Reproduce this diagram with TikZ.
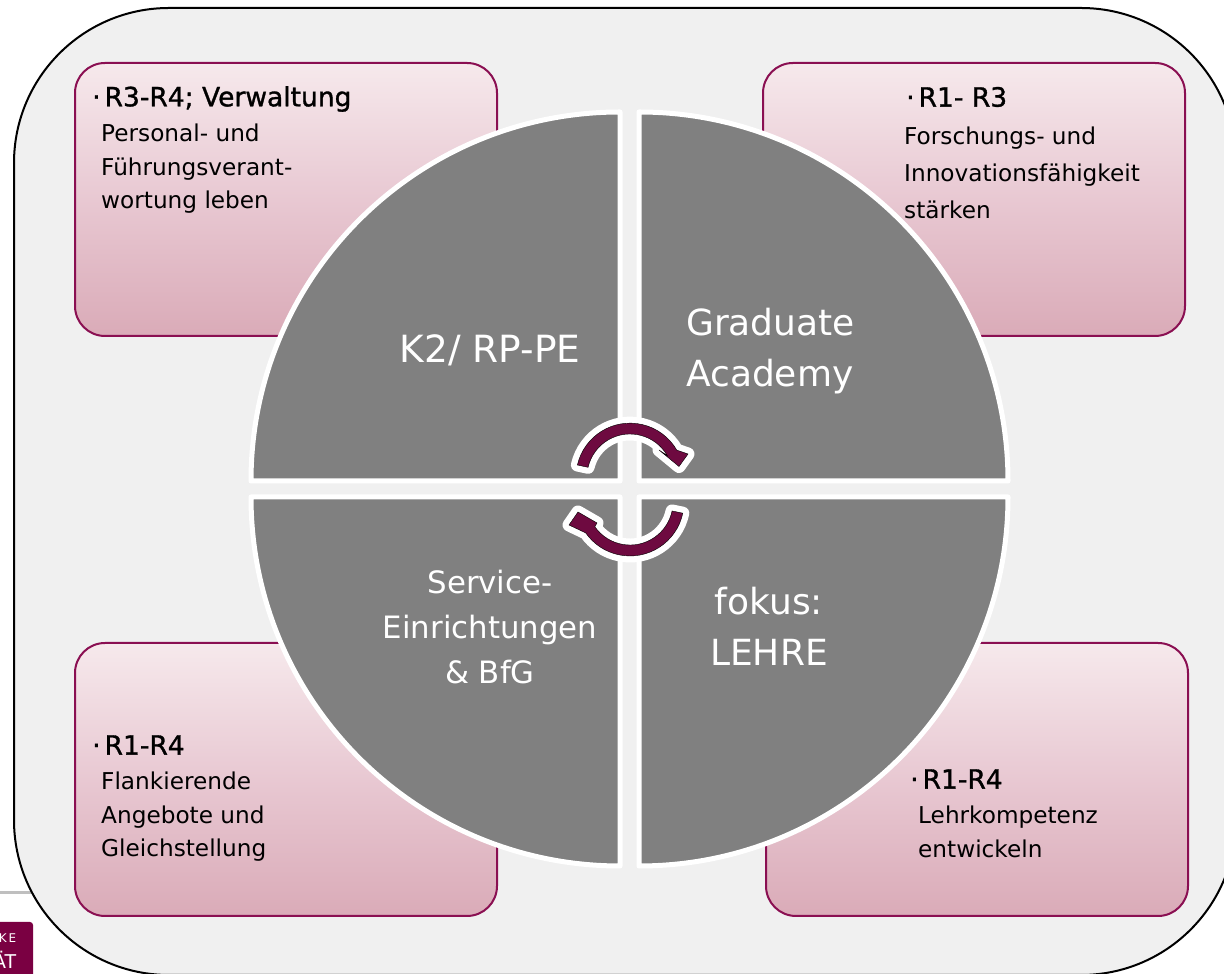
\documentclass[tikz,border=0pt]{standalone}
\usepackage{fontspec}
\setmainfont{DejaVu Sans}
\newfontfamily\headfont[FakeBold=1.2]{DejaVu Sans}
\definecolor{wine}{HTML}{6E0A40}
\definecolor{logowine}{HTML}{7A0042}
\definecolor{panelline}{HTML}{8A0F52}
\definecolor{paneltop}{HTML}{F6E9EC}
\definecolor{panelmid}{HTML}{E8C8D2}
\definecolor{panelend}{HTML}{DAABB8}
\definecolor{backfill}{HTML}{F0F0F0}
\definecolor{sectorgray}{HTML}{808080}
\begin{document}
\begin{tikzpicture}[x=1pt,y=1pt]
	\tikzstyle{panel}=[draw=panelline,line width=2pt,rounded corners=30pt,minimum width=422pt,minimum height=273pt,top color=paneltop,bottom color=panelend,middle color=panelmid]
	\tikzstyle{sector}=[fill=sectorgray,draw=white,line width=5pt,line join=round]
	\tikzstyle{turn}=[fill=wine,preaction={draw=white,line width=13pt,line join=round}]
	\tikzstyle{head}=[anchor=west,inner sep=0pt,font=\fontsize{26.5}{30}\headfont]
	\tikzstyle{body}=[anchor=north west,align=left,inner sep=0pt,font=\fontsize{23.2}{33.5}\selectfont]
	\tikzstyle{big}=[align=center,text=white,inner sep=0pt,font=\fontsize{36}{51}\selectfont]
	\tikzstyle{small}=[align=center,text=white,inner sep=0pt,font=\fontsize{30.8}{45}\selectfont]

	\useasboundingbox (0,0) rectangle (1224,974);
	\clip (0,0) rectangle (1224,974);

	\fill[gray!50] (0,79.5) rectangle (60,82.5);
	\fill[logowine,rounded corners=3pt] (-10,-10) rectangle (33,52);
	\node[text=white,anchor=east,inner sep=0pt,font=\fontsize{12}{14}\selectfont] (logoA) at (16.5,36) {K\,E};
	\node[text=white,anchor=east,inner sep=0pt,font=\fontsize{19}{24}\selectfont] (logoB) at (16.5,14) {ÄT};

	\draw[fill=backfill,draw=black,line width=2pt,rounded corners=155pt] (14,-1) rectangle (1236,966);

	\node[panel] (panelA) at (286,774.5) {};
	\node[panel] (panelB) at (974,774.5) {};
	\node[panel] (panelC) at (286,194.5) {};
	\node[panel] (panelD) at (977,194.5) {};

	\node[head] (headA) at (92,875) {·\kern4pt R3-R4; Verwaltung};
	\node[body] (bodyA) at (101,850) {Personal- und\\Führungsverant-\\wortung leben};
	\node[head] (headB) at (906,877) {·\kern4pt R1- R3};
	\node[body] (bodyB) at (904,847) {Forschungs- und\\[3.5pt]Innovationsfähigkeit\\[3.5pt]stärken};
	\node[head] (headC) at (92,229) {·\kern4pt R1-R4};
	\node[body] (bodyC) at (101,202) {Flankierende\\Angebote und\\Gleichstellung};
	\node[head] (headD) at (910,195) {·\kern4pt R1-R4};
	\node[body] (bodyD) at (918,168) {Lehrkompetenz\\entwickeln};

	\draw[sector] (620,493) -- (251,493) arc (180:90:369) -- cycle;
	\draw[sector] (639,493) -- (639,862) arc (90:0:369) -- cycle;
	\draw[sector] (620,477) -- (620,108) arc (270:180:369) -- cycle;
	\draw[sector] (639,477) -- (1008,477) arc (0:-90:369) -- cycle;

	\node[big,font=\fontsize{37.5}{51}\selectfont] (labelA) at (490,624) {K2/ RP-PE};
	\node[big,align=left,anchor=west] (labelB) at (686,623) {Graduate\\Academy};
	\node[small] (labelC) at (490,347) {Service-\\Einrichtungen\\\& BfG};
	\node[big] (labelD) at (769,348) {fokus:\\LEHRE};

	\draw[turn] (577.4,509) arc (167:30:54) -- (688,520) -- (679,507.5) -- (659,524) -- (667.2,518.5) arc (30:167:43) -- cycle;
	\draw[turn] (682.8,460.8) arc (-12:-145:54) -- (569,449) -- (578,462) -- (597,451) -- (594.8,447.3) arc (-145:-12:43) -- cycle;
\end{tikzpicture}
\end{document}
